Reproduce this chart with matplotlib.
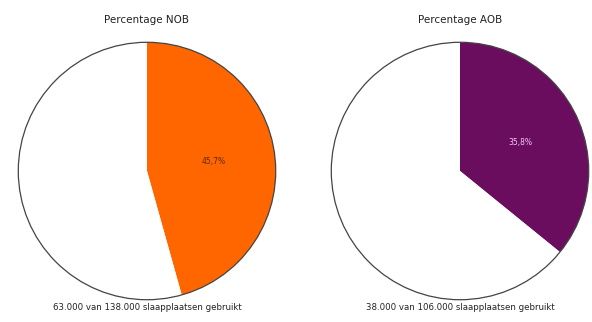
import matplotlib
matplotlib.use('Agg')
import matplotlib.pyplot as plt

titles = ['Percentage NOB', 'Percentage AOB']
used = [63000, 38000]
total = [138000, 106000]
colors = ['#ff6600', '#6a0d5f']
label_colors = ['#5a2a00', '#f2c8f0']
captions = ['63.000 van 138.000 slaapplaatsen gebruikt',
            '38.000 van 106.000 slaapplaatsen gebruikt']

W, H = 592, 322
fig = plt.figure(figsize=(W / 100, H / 100), dpi=100)

centers_x = [147, 460]
radius = 130

for i in range(2):
    ax = fig.add_axes([(centers_x[i] - radius) / W, (H - 171 - radius) / H,
                       2 * radius / W, 2 * radius / H])
    vals = [used[i], total[i] - used[i]]
    wedges, texts, autotexts = ax.pie(
        vals, colors=[colors[i], 'white'], startangle=90, counterclock=False,
        autopct=lambda p: ('%.1f%%' % p).replace('.', ',') if p < 50 else '',
        pctdistance=0.52, wedgeprops=dict(edgecolor='none'),
        textprops=dict(fontsize=5.5))
    autotexts[0].set_color(label_colors[i])
    # outline of the circle
    circ = plt.Circle((0, 0), 1, fill=False, edgecolor='#444444', linewidth=0.9)
    ax.add_patch(circ)
    ax.set_xlim(-1.01, 1.01)
    ax.set_ylim(-1.01, 1.01)
    ax.set_aspect('equal')
    fig.text(centers_x[i] / W, 1 - 20 / H, titles[i], ha='center', va='center',
             fontsize=7.5, color='#222222')
    fig.text(centers_x[i] / W, 1 - 307 / H, captions[i], ha='center', va='center',
             fontsize=6.2, color='#222222')

fig.savefig('out.png', dpi=100)
